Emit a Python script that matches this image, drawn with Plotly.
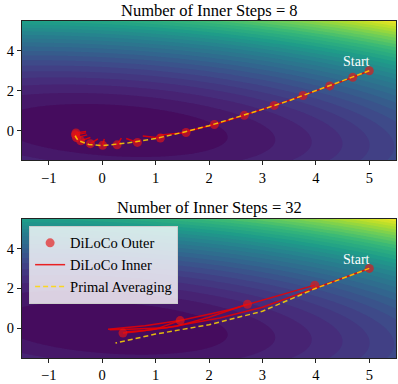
import numpy as np
import plotly.graph_objects as go
from plotly.subplots import make_subplots

# loss surface (quadratic bowl) shown behind both panels
SURF_A, SURF_B, SURF_C = 1.0, 2.6, 0.8
SURF_X0, SURF_Y0 = 0.2, 0.0
N_LEVELS = 30

# --- 8 inner steps ---
outer8_x = [5.0, 4.69, 4.26, 3.76, 3.22, 2.66, 2.10, 1.57, 1.09, 0.66, 0.28, 0.01, -0.22, -0.40, -0.48, -0.50, -0.49]
outer8_y = [3.0, 2.67, 2.24, 1.76, 1.26, 0.76, 0.30, -0.10, -0.38, -0.60, -0.72, -0.74, -0.66, -0.52, -0.36, -0.22, -0.12]
inner8_end_x = [4.72, 4.30, 3.80, 3.27, 2.70, 2.15, 1.60, 1.05, 0.76, 0.45, 0.36, 0.04, -0.08, -0.22, -0.28, -0.30, -0.30]
inner8_end_y = [2.70, 2.28, 1.80, 1.30, 0.80, 0.34, -0.04, -0.24, -0.28, -0.40, -0.38, -0.42, -0.42, -0.35, -0.22, -0.12, -0.05]
primal8_x = [5.0, 4.5, 4.0, 3.5, 3.0, 2.5, 2.0, 1.5, 1.0, 0.5, 0.0, -0.25, -0.45, -0.50, -0.48]
primal8_y = [3.0, 2.5, 1.98, 1.5, 1.06, 0.64, 0.24, -0.10, -0.40, -0.62, -0.76, -0.70, -0.50, -0.30, -0.22]

# --- 32 inner steps ---
outer32_x = [5.0, 3.98, 2.72, 1.46, 0.39]
outer32_y = [3.0, 2.16, 1.20, 0.38, -0.25]
inner32_paths = [
    ([5.0, 4.0, 3.0, 2.2, 1.2, 0.5, 0.14], [3.0, 2.02, 1.05, 0.51, 0.02, -0.05, -0.08]),
    ([3.98, 2.72, 2.38, 1.46, 0.80, 0.11], [2.16, 1.20, 0.92, 0.38, 0.12, -0.06]),
    ([2.72, 2.0, 1.4, 0.8, 0.45], [1.20, 0.55, 0.10, -0.12, -0.18]),
    ([1.46, 1.0, 0.6, 0.39], [0.38, -0.05, -0.20, -0.25]),
]
primal32_x = [5.0, 4.0, 3.0, 2.0, 1.0, 0.25]
primal32_y = [3.0, 2.0, 0.85, 0.17, -0.30, -0.75]

SERIF = "Liberation Serif, Times New Roman, serif"


def surface():
    xs = np.linspace(-1.5, 5.5, 221)
    ys = np.linspace(-1.5, 5.5, 221)
    X, Y = np.meshgrid(xs, ys)
    dx, dy = X - SURF_X0, Y - SURF_Y0
    Z = SURF_A * dx**2 + SURF_B * dy**2 + SURF_C * dx * dy
    return xs, ys, Z


def segments(x0s, y0s, x1s, y1s):
    xx, yy = [], []
    for a, b, c, d in zip(x0s, y0s, x1s, y1s):
        xx += [a, c, None]
        yy += [b, d, None]
    return xx, yy


fig = make_subplots(rows=2, cols=1, vertical_spacing=0.173)

xs, ys, Z = surface()
zmax = float(Z.max())
for row in (1, 2):
    fig.add_trace(
        go.Contour(
            x=xs, y=ys, z=Z, colorscale="Viridis", showscale=False,
            contours=dict(coloring="fill", start=0, end=zmax, size=zmax / N_LEVELS),
            line=dict(width=0), hoverinfo="skip",
        ),
        row=row, col=1,
    )

red_line = dict(color="rgba(235,0,0,0.85)", width=1.5)
dot = dict(color="rgba(230,20,20,0.65)", size=9)
dash_line = dict(color="rgba(255,215,0,0.85)", width=1.5, dash="5px,3px")

# top panel
ix, iy = segments(outer8_x, outer8_y, inner8_end_x, inner8_end_y)
fig.add_trace(go.Scatter(x=ix, y=iy, mode="lines", line=red_line, showlegend=False), row=1, col=1)
fig.add_trace(go.Scatter(x=outer8_x, y=outer8_y, mode="markers", marker=dot, showlegend=False), row=1, col=1)
fig.add_trace(go.Scatter(x=primal8_x, y=primal8_y, mode="lines", line=dash_line, showlegend=False), row=1, col=1)

# bottom panel
ix, iy = [], []
for px_, py_ in inner32_paths:
    ix += px_ + [None]
    iy += py_ + [None]
fig.add_trace(go.Scatter(x=ix, y=iy, mode="lines", line=red_line, name="DiLoCo Inner", legendrank=2), row=2, col=1)
fig.add_trace(go.Scatter(x=outer32_x, y=outer32_y, mode="markers", marker=dot, name="DiLoCo Outer", legendrank=1), row=2, col=1)
fig.add_trace(go.Scatter(x=primal32_x, y=primal32_y, mode="lines", line=dash_line, name="Primal Averaging", legendrank=3), row=2, col=1)

axis_style = dict(
    range=[-1.5, 5.5], showgrid=False, zeroline=False, showline=True, mirror=True,
    linecolor="#222", linewidth=1, ticks="outside", ticklen=4, tickcolor="#222",
    tickfont=dict(family=SERIF, size=14.5, color="black"),
)
for row in (1, 2):
    fig.update_xaxes(tickvals=[-1, 0, 1, 2, 3, 4, 5], ticktext=["\u22121", "0", "1", "2", "3", "4", "5"], row=row, col=1, **axis_style)
    fig.update_yaxes(tickvals=[0, 2, 4], row=row, col=1, **axis_style)

fig.update_layout(
    width=398, height=384,
    margin=dict(l=22, r=1, t=21, b=21),
    paper_bgcolor="white", plot_bgcolor="white",
    font=dict(family=SERIF, color="black"),
    legend=dict(
        x=0.019, y=0.392, xanchor="left", yanchor="top",
        bgcolor="rgba(255,255,255,0.8)", bordercolor="#ccc", borderwidth=1,
        font=dict(family=SERIF, size=14.5), tracegroupgap=0,
    ),
    annotations=[
        dict(text="Number of Inner Steps = 8", xref="paper", yref="paper", x=0.5, y=1.032,
             xanchor="center", yanchor="middle", showarrow=False, borderpad=0,
             font=dict(family=SERIF, size=16.5)),
        dict(text="Number of Inner Steps = 32", xref="paper", yref="paper", x=0.5, y=0.447,
             xanchor="center", yanchor="middle", showarrow=False, borderpad=0,
             font=dict(family=SERIF, size=16.5)),
        dict(text="Start", xref="x", yref="y", x=4.76, y=3.45, showarrow=False,
             font=dict(family=SERIF, size=14, color="white")),
        dict(text="Start", xref="x2", yref="y2", x=4.76, y=3.45, showarrow=False,
             font=dict(family=SERIF, size=14, color="white")),
    ],
)

fig.write_html(
    "out.html",
    config={"displayModeBar": False},
    post_script="document.body.style.margin='0';document.body.style.padding='0';",
)
